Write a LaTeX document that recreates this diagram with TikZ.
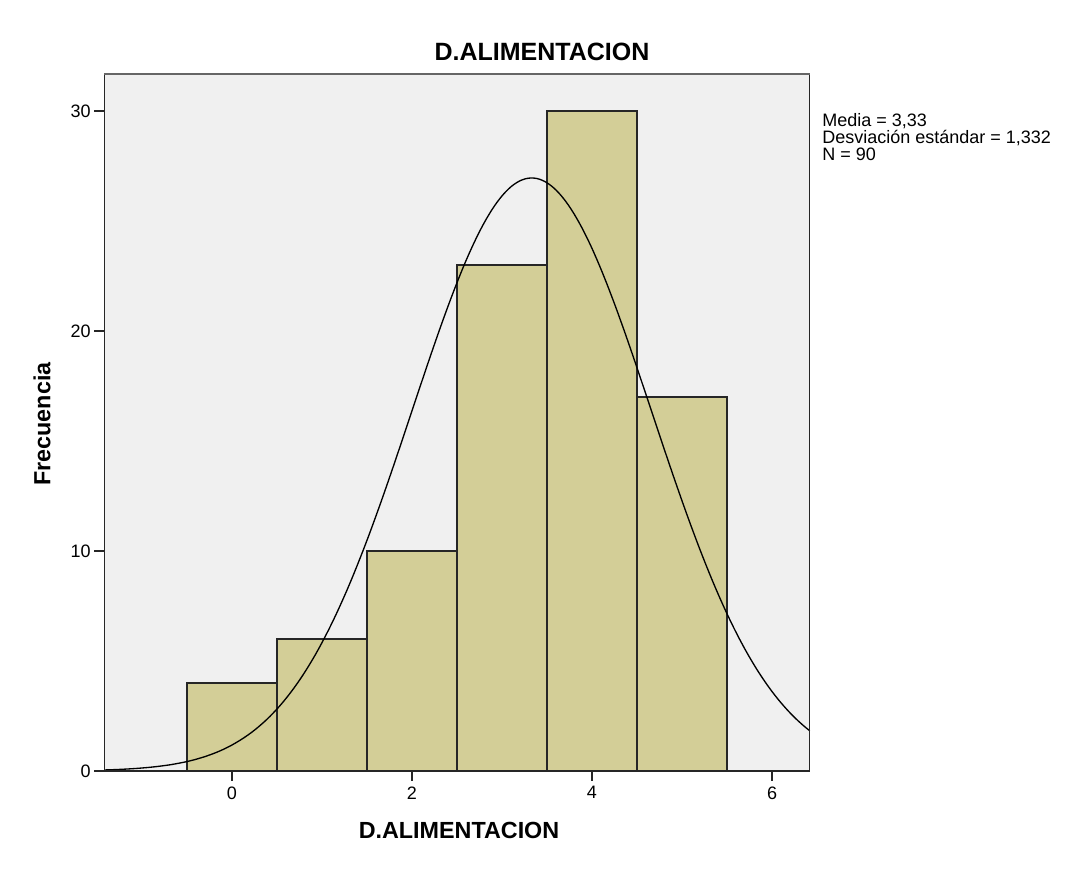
\documentclass[tikz,border=0pt]{standalone}
\usepackage{fontspec}
\setmainfont{Liberation Sans}
\usetikzlibrary{positioning}
\definecolor{plotbg}{HTML}{F0F0F0}
\definecolor{barfill}{HTML}{D3CE97}

\begin{document}
\begin{tikzpicture}[
    x=0.75pt, y=0.75pt,
    bar/.style={draw=black!85, line width=0.9pt, fill=barfill},
    tickmark/.style={draw=black!85, line width=0.9pt},
    ticklabel/.style={font=\fontsize{13.5}{14}\selectfont, inner sep=0pt},
    axlabel/.style={font=\bfseries\fontsize{17.5}{20}\selectfont, inner sep=0pt},
    stats/.style={font=\fontsize{13.5}{13}\selectfont, align=left, inner sep=0pt}]

    \useasboundingbox (0,0) rectangle (1072,-870);

    \node[axlabel, font=\bfseries\fontsize{18.75}{20}\selectfont] (title) at (542,-52) {D.ALIMENTACION};
    \node[axlabel] (xlabel) at (459,-830) {D.ALIMENTACION};
    \node[axlabel, rotate=90] (ylabel) at (42,-424) {Frecuencia};
    \node[stats, anchor=north west] (stats) at (822,-113) {Media = 3,33\\Desviación estándar = 1,332\\N = 90};

    \begin{scope}[shift={(232,-771)}, x=67.5pt, y=16.5pt]
        \fill[plotbg] (-1.42,0) rectangle (6.42,31.7);

        % histogram
        \foreach \lo/\h in {-0.5/4, 0.5/6, 1.5/10, 2.5/23, 3.5/30, 4.5/17}
            \draw[bar] (\lo,0) rectangle ++(1,\h);

        % normal curve
        \draw[line width=1pt, domain=-1.42:6.42, samples=150, smooth]
            plot (\x, {26.95*exp(-((\x-3.33)^2)/(2*1.332^2))});

        \draw[draw=black!85, line width=0.9pt] (-1.42,31.7) -- (-1.42,0) -- (6.42,0) -- (6.42,31.7);
        \draw[draw=black!60, line width=1.6pt] (-1.42,31.7) -- (6.42,31.7);

        \foreach \t in {0,2,4,6} {
            \draw[tickmark] (\t,0) -- ++(0,-7.5pt);
            \node[ticklabel, anchor=north] (xt\t) at ([yshift=-11.5pt]\t,0) {\t};
        }
        \foreach \t in {0,10,20,30} {
            \draw[tickmark] (-1.42,\t) -- ++(-7.5pt,0);
            \node[ticklabel, anchor=east] (yt\t) at ([xshift=-10pt]-1.42,\t) {\t};
        }
    \end{scope}

\end{tikzpicture}
\end{document}
